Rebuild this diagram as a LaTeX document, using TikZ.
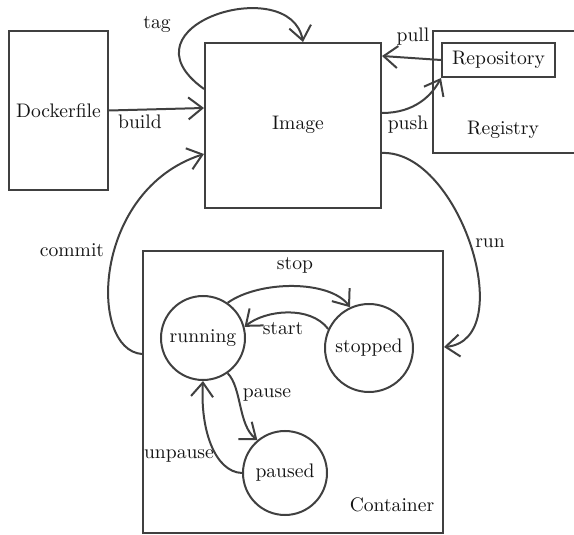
\documentclass[tikz,border=0pt]{standalone}
\usetikzlibrary{arrows.meta}
\definecolor{ln}{HTML}{404040}
\definecolor{tx}{HTML}{141414}
\tikzset{
  box/.style={draw=ln, line width=1pt, rectangle, inner sep=0pt, text=tx},
  state/.style={draw=ln, line width=1pt, circle, inner sep=0pt, minimum size=42pt, text=tx},
  lbl/.style={text=tx, inner sep=1pt},
  conn/.style={draw=ln, line width=1pt, -{Straight Barb[length=7pt,width=11pt]}},
}
\begin{document}
\begin{tikzpicture}[x=0.5pt,y=-0.5pt, font=\fontsize{9.8}{11}\selectfont]
\useasboundingbox (0,0) rectangle (574,535);
% boxes
\node[box, minimum width=49.5pt, minimum height=79.5pt] (df) at (58.5,110.5) {Dockerfile};
\node[box, minimum width=88pt, minimum height=82.5pt] (img) at (293,125.5) {};
\node[lbl] (imgl) at (298,125) {Image};
\node[box, minimum width=73.5pt, minimum height=61pt] (reg) at (506.5,92) {};
\node[lbl] (regl) at (503,130) {Registry};
\node[box, fill=white, minimum width=56.5pt, minimum height=17pt] (rep) at (498.5,60) {Repository};
\node[box, minimum width=150pt, minimum height=141pt] (cont) at (293,392) {};
\node[lbl] (contl) at (392,505) {Container};
% states
\node[state] (run) at (203,338) {running};
\node[state, minimum size=44pt] (stp) at (369,348) {stopped};
\node[state] (pau) at (285,473) {paused};
% connectors
\draw[conn] (df.east) -- ([yshift=8.75pt]img.west);
\node[lbl] (buildl) at (140,122) {build};
\draw[conn] ([yshift=18.25pt]img.west) .. controls (115,25) and (290,-28) .. ([xshift=5pt]img.north);
\node[lbl] (tagl) at (157,24) {tag};
\draw[conn] (rep.west) -- ([yshift=34.75pt]img.east);
\node[lbl] (pulll) at (413,37) {pull};
\draw[conn] ([yshift=6.25pt]img.east) .. controls (415,113) and (432,95) .. (rep.south west);
\node[lbl] (pushl) at (408,125) {push};
\draw[conn] ([yshift=-13.75pt]img.east) .. controls (460,150) and (520,340) .. ([yshift=22.5pt]cont.east);
\node[lbl] (runl) at (490,243) {run};
\draw[conn] ([yshift=19pt]cont.west) .. controls (88,350) and (92,190) .. ([yshift=-14.25pt]img.west);
\node[lbl] (commitl) at (72,250) {commit};
\draw[conn] (run.55) .. controls (260,280) and (330,280) .. (stp.115);
\node[lbl] (stopl) at (295,265) {stop};
\draw[conn] (stp.155) .. controls (310,305) and (265,310) .. (run.15);
\node[lbl] (startl) at (283,329) {start};
\draw[conn] (run.-55) .. controls (242,388) and (238,425) .. (pau.130);
\node[lbl] (pausel) at (267,395) {pause};
\draw[conn] (pau.180) .. controls (215,472) and (200,430) .. (run.south);
\node[lbl] (unpausel) at (179,456) {unpause};
\end{tikzpicture}
\end{document}
